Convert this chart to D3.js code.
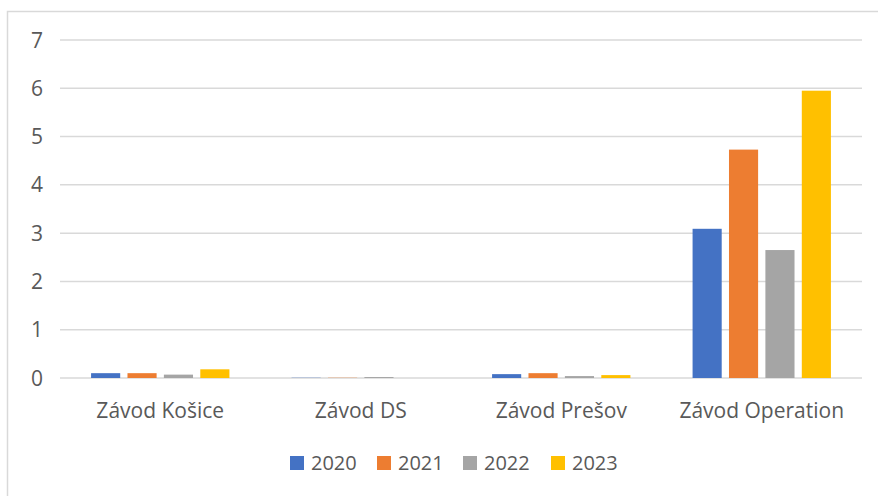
<!DOCTYPE html>
<html>
<head>
<meta charset="utf-8">
<script src="https://cdn.jsdelivr.net/npm/d3@7"></script>
<style>
  body { margin: 0; background: #fff; }
  text { font-family: "Open Sans", "Noto Sans", sans-serif; fill: #595959; }
</style>
</head>
<body>
<div id="chart"></div>
<script>
// plants and yearly values
var categories = ["Závod Košice", "Závod DS", "Závod Prešov", "Závod Operation"];
var years = ["2020", "2021", "2022", "2023"];
var values2020 = [0.10, 0.005, 0.08, 3.09];
var values2021 = [0.10, 0.005, 0.10, 4.73];
var values2022 = [0.07, 0.02, 0.04, 2.65];
var values2023 = [0.18, 0, 0.06, 5.95];
var yTicks = [0, 1, 2, 3, 4, 5, 6, 7];
var colors = ["#4472C4", "#ED7D31", "#A5A5A5", "#FFC000"];

var seriesValues = [values2020, values2021, values2022, values2023];

var width = 878, height = 496;
var plotLeft = 60, plotRight = 862, plotTop = 40, plotBottom = 378;

var svg = d3.select("#chart").append("svg")
    .attr("width", width)
    .attr("height", height);

// chart border (clipped at right / bottom like the original)
svg.append("rect")
    .attr("x", 7.5).attr("y", 11.5)
    .attr("width", 900).attr("height", 600)
    .style("fill", "none").style("stroke", "#d9d9d9").style("stroke-width", 1.5);

var y = d3.scaleLinear().domain([0, 7]).range([plotBottom, plotTop]);
var x0 = d3.scaleBand().domain(categories).range([plotLeft, plotRight]).paddingInner(0.31).paddingOuter(0.155);
var x1 = d3.scaleBand().domain(years).range([0, x0.bandwidth()]).paddingInner(0.2);

// gridlines
svg.selectAll("line.grid").data(yTicks)
  .enter().append("line")
    .attr("class", "grid")
    .attr("x1", plotLeft).attr("x2", plotRight)
    .attr("y1", function (d) { return y(d); })
    .attr("y2", function (d) { return y(d); })
    .style("stroke", "#d9d9d9").style("stroke-width", 1.5);

// y labels
svg.selectAll("text.ytick").data(yTicks)
  .enter().append("text")
    .attr("class", "ytick")
    .attr("x", 37)
    .attr("y", function (d) { return y(d); })
    .attr("dy", "0.36em")
    .attr("text-anchor", "middle")
    .style("font-size", "21px")
    .text(function (d) { return d; });

// bars
var groups = svg.selectAll("g.cat").data(categories)
  .enter().append("g")
    .attr("class", "cat")
    .attr("transform", function (d) { return "translate(" + x0(d) + ",0)"; });

groups.selectAll("rect")
    .data(function (d, i) {
      return years.map(function (yr, j) { return { year: yr, value: seriesValues[j][i], color: colors[j] }; });
    })
  .enter().append("rect")
    .attr("x", function (d) { return x1(d.year); })
    .attr("width", x1.bandwidth())
    .attr("y", function (d) { return y(d.value); })
    .attr("height", function (d) { return plotBottom - y(d.value); })
    .style("fill", function (d) { return d.color; });

// category labels
svg.selectAll("text.cat").data(categories)
  .enter().append("text")
    .attr("class", "cat")
    .attr("x", function (d) { return x0(d) + x0.bandwidth() / 2; })
    .attr("y", 418)
    .attr("text-anchor", "middle")
    .style("font-size", "21px")
    .text(function (d) { return d; });

// legend
var legendX = [290, 377, 463, 551];
var legend = svg.selectAll("g.legend").data(years)
  .enter().append("g")
    .attr("class", "legend")
    .attr("transform", function (d, i) { return "translate(" + legendX[i] + ",456)"; });

legend.append("rect")
    .attr("width", 14).attr("height", 14)
    .style("fill", function (d, i) { return colors[i]; });

legend.append("text")
    .attr("x", 21).attr("y", 7)
    .attr("dy", "0.36em")
    .style("font-size", "20px")
    .text(function (d) { return d; });
</script>
</body>
</html>
